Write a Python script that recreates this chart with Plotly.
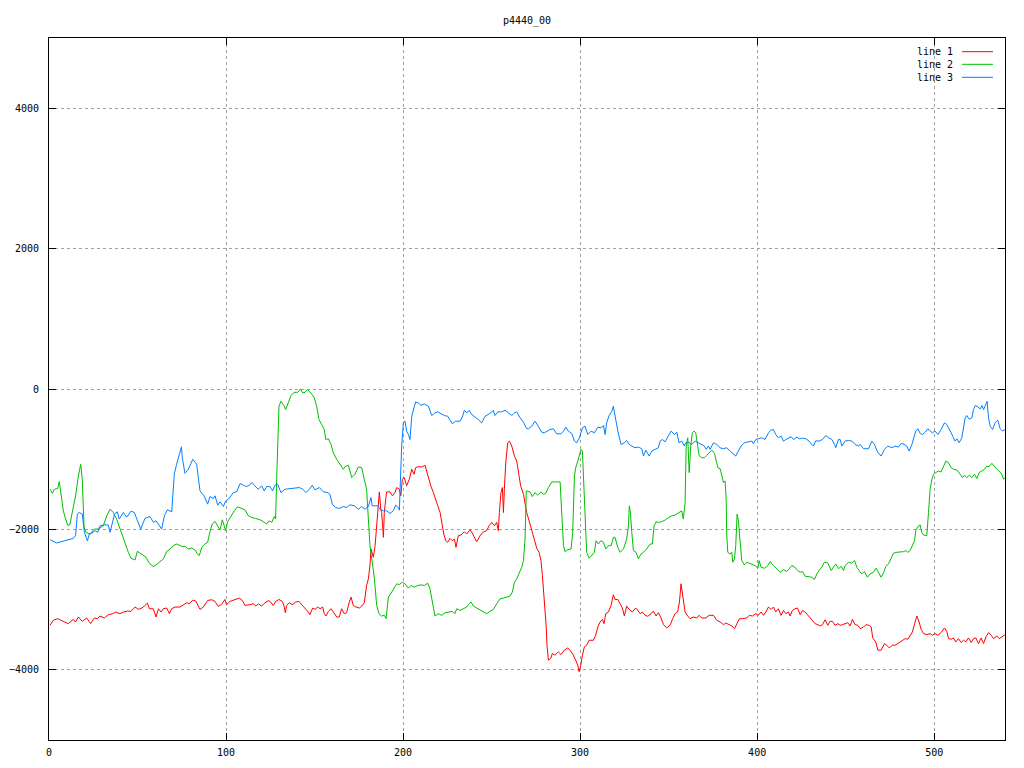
import plotly.graph_objects as go

title_text = "p4440_00"
series_names = ["line 1", "line 2", "line 3"]
x_ticks = [0, 100, 200, 300, 400, 500]
y_ticks = [-4000, -2000, 0, 2000, 4000]

line1_x = [0.6,2.4,4.9,8.1,10.9,13.7,15,16.6,18.8,21.3,23.5,25.6,27.3,28.8,31.3,33.5,36,37.7,40.1,42,44.4,46.3,48.6,50.5,52.4,53.9,55.6,56.7,58.9,60.5,61.8,63.3,64.6,66.5,68,69.3,71.2,74,75.9,77.8,79.3,81.2,82.9,85.3,87.2,
    89.6,91.9,93.8,95.6,97.5,99.4,100.3,102.2,104.1,106,107.5,109.2,110.7,113.5,115.4,116.9,118.2,120.1,122,124.3,126.7,128,129.9,131.8,132.9,133.5,134.2,135.7,137.4,139.3,141.2,143.1,144.6,146.5,147.4,148.9,150.2,151.8,153.1,154.6,155.5,156.5,157.8,159.3,160.6,162.5,164,165.3,166.8,168.1,169.5,170.6,171.9,173.4,175.3,176.6,178.1,
    179.4,180.4,181.3,181.9,183.2,184.2,185.1,186,186.6,187.4,187.9,188.9,189.4,190.2,190.7,192.6,194,195.4,196.4,197.9,198.7,199.6,200.7,202,203.5,204.9,206.2,207.1,208.6,210.5,212.4,213.3,214.3,215.8,217.1,218.4,219.6,220.9,221.8,223,224.1,225.2,226.5,227.8,229,229.9,231.2,232.7,234.6,235.9,237.8,239.1,240.6,241.6,243.5,245.4,247.2,248.6,250.1,251.6,252.9,253.8,254.4,255.3,256.1,256.7,257.2,258,259.1,260.1,261.4,262.9,264.2,265.5,266.4,268,
    269.8,271.2,272.7,274.2,275.5,276.8,277.9,278.7,279.4,280.2,280.8,281.3,282.1,283.4,284.3,285.8,287.7,289.2,291.1,293,294.3,296.2,297.5,298.7,299.4,300.4,301.3,302.4,303.7,305.1,307.5,308.8,310,311.3,312.6,313.5,314.5,316,317.5,318.8,319.7,321.3,322.6,323.9,325,326.3,327.7,329.5,331,332,333.9,335.2,336.7,338.2,340.1,341.4,342.9,344.2,345.5,347.1,348.9,350.8,352.3,353.6,355.1,356.1,357,357.8,358.7,
    359.3,360.8,362.1,364,365.9,367.2,368.7,371,372.9,375.3,377.2,379.1,381,382.3,383.8,385.7,387.2,388.5,390,391.7,394.1,395.6,397.3,399.2,400.7,402.2,403.6,404.9,406.4,407.9,409.2,410.5,412,413.5,414.9,416.2,417.7,418.6,419.9,421.4,422.8,424.3,425.6,427.1,428.6,429.9,431.2,432.7,434.3,435.6,436.9,438.4,439.9,441.2,442.5,444,445.6,446.9,448.2,
    449.7,451.2,452.5,453.8,455.3,456.9,458.2,460.1,461.4,463.3,464.4,465.3,467,468.2,470,471.9,473.2,474.6,476.4,477.9,479.5,480.8,482.1,483.6,485.1,486.4,487.7,488.7,489.6,490.2,491.5,492.6,494,495.8,497.7,499,500.5,502.1,503.9,505.8,507.1,508.1,509.6,510.9,512.2,513.7,515.2,516.6,517.9,519.4,520.9,522.2,523.5,525,526.5,527.9,529.2,530.7,532.2,533.5,535.4,536.7,538.2,540]
line1_y = [-3366,-3295,-3272,-3305,-3343,-3281,-3319,-3248,-3310,-3262,-3343,-3262,-3272,-3234,-3262,-3215,-3201,-3177,-3201,-3177,-3163,-3168,-3106,-3139,-3120,-3092,-3050,-3130,-3130,-3248,-3130,-3177,-3130,-3120,-3201,-3130,-3106,-3106,-3073,-3045,-3059,-3007,-3021,-3139,-3106,
    -3012,-3002,-3026,-3097,-3068,-2998,-3073,-3026,-3012,-2988,-2979,-3012,-3083,-3073,-3059,-3092,-3059,-3092,-3045,-3012,-3083,-3026,-2998,-3026,-3106,-3187,-3083,-3045,-3073,-3035,-3026,-3083,-3120,-3177,-3215,-3120,-3139,-3106,-3130,-3106,-3201,-3234,-3168,-3130,-3177,-3248,-3248,-3130,-3201,-3187,-3045,-2965,-3083,-3106,-3120,-3092,-3045,
    -2799,-2704,-2515,-2279,-2397,-2232,-1948,-1712,-1466,-1712,-1759,-2113,-1759,-1570,-1466,-1466,-1522,-1475,-1404,-1428,-1522,-1286,-1262,-1380,-1286,-1144,-1215,-1121,-1106,-1111,-1087,-1168,-1262,-1390,-1475,-1593,-1664,-1759,-1900,-2066,-2161,-2184,-2128,-2161,-2137,-2255,-2090,-2080,-2033,-2066,-2005,-2052,-2128,-2175,-2090,-2033,-2019,-1948,-1900,-1948,-1900,-2019,-1759,-1475,-1404,-1759,-1428,-1050,-766,-743,-813,-955,-1026,-1239,-1380,-1499,
    -1759,-1877,-2019,-2137,-2269,-2326,-2444,-2657,-2893,-3083,-3366,-3650,-3863,-3839,-3768,-3792,-3745,-3782,-3721,-3688,-3721,-3792,-3863,-3934,-4028,-3934,-3792,-3674,-3650,-3579,-3579,-3508,-3390,-3319,-3281,-3343,-3201,-3177,-3083,-2931,-2998,-2998,-3059,-3120,-3234,-3092,-3139,-3177,-3130,-3130,-3201,-3177,-3224,-3238,-3201,-3163,-3234,-3187,-3248,-3357,-3404,-3366,-3272,-3201,-3177,-3035,-2775,-2941,-3106,
    -3177,-3234,-3272,-3248,-3262,-3224,-3262,-3262,-3224,-3224,-3295,-3319,-3357,-3333,-3357,-3376,-3414,-3357,-3272,-3272,-3262,-3224,-3234,-3201,-3224,-3177,-3224,-3177,-3106,-3139,-3106,-3177,-3130,-3224,-3154,-3201,-3177,-3234,-3154,-3130,-3120,-3215,-3154,-3177,-3224,-3248,-3305,-3343,-3357,-3376,-3357,-3286,-3366,-3310,-3310,-3366,-3343,-3366,-3357,
    -3343,-3329,-3376,-3281,-3357,-3366,-3414,-3390,-3357,-3366,-3390,-3546,-3603,-3721,-3721,-3626,-3650,-3688,-3650,-3650,-3626,-3603,-3579,-3556,-3565,-3518,-3461,-3366,-3272,-3234,-3319,-3423,-3484,-3499,-3484,-3508,-3484,-3508,-3470,-3404,-3451,-3556,-3565,-3546,-3603,-3556,-3612,-3579,-3603,-3546,-3612,-3556,-3546,-3626,-3546,-3626,-3532,-3470,-3508,-3556,-3518,-3556,-3532,-3499]

line2_x = [0.6,1.9,3,4.9,5.8,6.8,8.1,9.4,10.5,11.7,13.2,15,16.6,17.9,18.8,19.8,20.9,23.2,25.6,27.9,30.7,32.6,34.5,36.3,38.2,40.1,42.6,44.8,46.3,48.6,49.9,52.4,54.8,56.7,58.9,60.5,62.7,64.6,66.5,68.4,70.2,72.1,75,76.8,78.7,80.6,82.5,83.8,84.9,86.3,
    87.6,89.6,90.9,92.2,93.8,95.3,96.6,97.9,99,99.8,100.9,102.8,104.7,106.4,108.4,110.7,112.6,114.5,116.7,119.2,121.1,122.9,124.4,125.8,127.3,128,128.6,129.2,129.9,131,132.4,133.7,135.2,136.7,138.4,140.5,142.1,143.3,144.6,145.9,148,149.9,151.2,152.5,154,155.5,156.3,157.8,159.3,160.6,162.5,164.4,166.3,167.2,169.1,171,172.8,174.7,176.6,178.1,
    179.4,180.4,181.3,182.6,183.8,185.1,186.4,187.9,189.4,190.4,191.7,193.6,195.4,196.4,197.9,199.6,201.1,203,204.5,206.4,208.3,210.1,212,213.9,215.2,216.2,217.1,218,219.9,221.8,223.7,225.6,227.8,229.3,230.3,232.2,234.1,235.9,237.3,238.4,239.7,241.6,243.5,245.4,247.2,249.1,251,252.9,254.8,256.7,258.5,260.4,261.7,262.9,264.2,265.5,267,268,268.9,
    269.6,271.7,273,274.5,276,277.9,279.3,280.6,282.1,284,286.2,288.7,289.2,290,290.6,291.5,293,294.9,295.8,296.8,297.5,298.7,299.6,300.5,301.3,301.9,302.8,303.7,305.1,306.6,308.1,309,310.3,311.8,313.2,314.5,316,317.5,318.8,319.7,321.3,322.6,324.5,326.3,327.3,327.8,328.4,329.2,330.1,331.6,332.9,334.4,335.8,337.6,339.5,340.8,341.8,342.9,344.2,346.1,348,349.9,351.8,353.6,355.5,357.4,358.3,358.9,
    359.3,359.9,360.8,361.6,362.5,363.4,364.4,365.3,366.3,367.2,368.7,370.2,371.5,372.9,374.4,375.9,376.8,377.8,379.1,380,381,381.9,382.5,382.8,383.4,384.7,385.7,386.2,387.2,387.9,388.7,389.4,390.4,391.3,392.8,394.1,395.5,397,398.8,400.4,401.1,402.2,404.1,406,407.3,409.2,411.1,413,414.9,416.7,418.1,419.6,421.4,422.8,424.3,425.6,427.1,429,430.9,432.4,433.7,435,436.5,438,439.9,441.8,443.1,444.4,446,447.4,448.8,
    449.7,451.6,453.5,455,456.3,457.6,459.1,460.6,462.3,463.8,465.7,467.2,468.5,470,471.4,472.7,474.2,475.7,477,478.9,480.8,482.7,484,485.1,486.4,487.7,488.9,489.6,490.8,492.1,493,494,495.8,496.8,497.7,498.7,499.6,500.9,502.4,503.9,505.3,506.6,508.1,509.6,510.9,512.8,514.7,516,517.1,518.4,519.8,521.3,522.8,524.1,525.4,527,528.4,529.7,531,532.6,534.1,535.4,536.7,538.2,539.2,540]
line2_y = [-1428,-1485,-1428,-1418,-1319,-1499,-1735,-1853,-1938,-1938,-1759,-1522,-1239,-1073,-1286,-1972,-2042,-2066,-1995,-1995,-1948,-1806,-1712,-1759,-1853,-1995,-2161,-2326,-2411,-2435,-2312,-2359,-2397,-2482,-2529,-2506,-2459,-2421,-2312,-2279,-2232,-2208,-2241,-2241,-2279,-2265,-2293,-2350,-2373,-2255,
    -2217,-2184,-2033,-1924,-1886,-1948,-2009,-1863,-1948,-2019,-1891,-1806,-1735,-1678,-1702,-1721,-1806,-1830,-1844,-1863,-1891,-1924,-1877,-1900,-1816,-1853,-1286,-813,-246,-175,-222,-293,-189,-95,-47,-47,0,-57,-47,-9,-57,-128,-246,-435,-506,-577,-719,-709,-790,-908,-1002,-1073,-1144,-1106,-1087,-1262,-1215,-1111,-1121,-1286,
    -1428,-1853,-2232,-2468,-2704,-3083,-3201,-3234,-3224,-3272,-2964,-2893,-2822,-2775,-2785,-2752,-2775,-2837,-2799,-2822,-2799,-2790,-2799,-2766,-2846,-2988,-3130,-3234,-3201,-3224,-3187,-3177,-3168,-3201,-3130,-3154,-3130,-3106,-3059,-3035,-3092,-3120,-3154,-3177,-3201,-3168,-3139,-3059,-2988,-2979,-2964,-2950,-2893,-2752,-2704,-2634,-2539,-2444,-2137,
    -1451,-1466,-1532,-1475,-1513,-1466,-1499,-1485,-1404,-1324,-1324,-1324,-1570,-1995,-2232,-2317,-2288,-2279,-2042,-1239,-1121,-1026,-931,-860,-884,-1286,-1853,-2326,-2411,-2373,-2326,-2161,-2208,-2161,-2184,-2279,-2232,-2232,-2113,-2113,-2255,-2326,-2279,-2137,-1948,-1664,-1759,-2042,-2302,-2326,-2421,-2350,-2326,-2279,-2208,-2208,-1948,-1891,-1900,-1891,-1867,-1830,-1806,-1797,-1768,-1735,-1853,-1664,
    -1617,-813,-695,-1191,-813,-624,-600,-624,-790,-946,-979,-979,-946,-908,-870,-917,-1026,-1121,-1135,-1215,-1333,-1310,-1570,-2066,-2326,-2350,-2326,-2468,-2421,-2232,-1782,-1877,-2232,-2444,-2506,-2468,-2482,-2492,-2515,-2553,-2444,-2539,-2553,-2515,-2459,-2515,-2562,-2610,-2572,-2600,-2562,-2515,-2539,-2586,-2610,-2600,-2667,-2671,-2681,-2714,-2634,-2586,-2539,-2468,-2477,-2586,-2539,-2492,-2562,-2525,-2586,
    -2515,-2468,-2482,-2444,-2539,-2586,-2634,-2600,-2681,-2634,-2610,-2553,-2610,-2681,-2619,-2525,-2492,-2421,-2340,-2326,-2326,-2317,-2302,-2326,-2302,-2232,-2161,-2019,-1957,-1938,-2042,-2080,-2090,-1759,-1428,-1286,-1215,-1191,-1168,-1182,-1087,-1026,-1050,-1121,-1144,-1154,-1215,-1262,-1229,-1262,-1229,-1262,-1215,-1276,-1191,-1168,-1144,-1097,-1106,-1059,-1106,-1144,-1168,-1215,-1286,-1262]

line3_x = [0.6,4.3,9,13.7,15,16,17,18.8,20,21.7,22.8,24,26,27.5,28.8,31.3,33.5,34.5,37,38.6,39.7,42,43.9,46.3,48.2,50.5,51.8,54.2,57,59,60.4,61.8,63.6,65.2,66.9,69.3,70.8,72.1,73.4,74.8,75.3,76.8,78.7,81.2,83.4,85.3,87.6,
    89.6,90.9,92.8,93.8,95.3,96.6,98.5,99.8,101.3,102.8,104.1,106,107.9,109.8,111.6,113.1,114.8,116.3,118.2,120.1,121.6,122.9,124.8,126.3,127.6,129.2,131,133.3,136.1,138.6,141.4,143.3,145.2,147.1,148.7,150.2,152.7,155,157.4,158.7,160,161.9,164,166.2,168.1,170,172.5,174.7,176.6,178.5,
    180.4,181.9,182.6,185.7,187,188.9,190.7,192.6,194.5,195.8,197.3,197.9,198.5,199.2,200.2,201.1,202,203,203.9,204.9,206.4,207.1,208.6,210.1,212,214.3,216.2,218,219.6,221.4,223.3,225.2,226.5,227.8,229.7,232.2,233.5,234.6,236,237.3,238.8,240.6,242.5,244.4,246.3,248.6,251,251.9,253.5,255.7,257.6,259.5,261.4,262.9,264.2,266.1,268,
    269.8,270.8,272.7,274.5,276.4,278.3,279.8,281.7,283,284.9,286.8,289.2,290.6,291.9,293.4,295.3,296.8,298.1,299.4,301.3,302.8,304.3,306.2,308.1,310,311.8,313.2,314.1,315,316.4,317.9,318.8,319.7,321.3,323.1,325,326.3,327.7,329.2,331,332.9,334.8,335.8,337.1,339,340.5,342.3,344.2,345.2,346.5,348,349.9,351.4,353.3,354.6,355.9,357.4,358.9,
    359.3,361.2,363.1,365,366.5,368.3,370.2,371.2,372.5,373.4,375.3,377.2,379.1,381,382.8,384.7,386.6,387.9,389.4,390.9,392.8,395.1,397,397.9,399.2,400.7,402.6,404.5,406.4,407.9,409.2,410.5,412,413.5,414.9,416.2,417.7,419.2,420.5,422.4,423.9,425.6,427.5,429.3,430.9,431.8,433.1,435,436.9,438.8,440.3,442.2,443.7,444.4,445.9,446.9,447.8,
    449.7,451.6,453.5,455.3,457.2,458.2,460.1,462.9,464.8,466.3,468,470,471.9,473.8,476.1,477.9,479.8,481.3,483.2,484.5,485.9,487.4,488.3,489.6,490.8,492.1,493.4,494.9,496.4,497.7,499,500.5,502.1,503.9,505.8,507.1,508.5,509.6,510.9,511.8,512.8,514.1,515.6,516.6,517.5,518.4,519.8,521.3,522.2,523.2,524.7,526,527,527.9,529.2,529.9,530.7,531.6,533,534.4,535.9,537.3,538.6,540]
line3_y = [-2146,-2194,-2160,-2128,-2090,-1782,-1759,-1782,-2042,-2165,-2066,-2057,-2019,-2042,-1948,-1934,-1938,-2042,-1782,-1749,-1853,-1759,-1825,-1740,-1759,-1910,-1995,-1844,-1816,-1900,-1877,-1924,-1995,-1806,-1721,-1749,-1206,-1073,-955,-823,-979,-1201,-1144,-1002,-1073,-1451,-1522,
    -1640,-1532,-1560,-1522,-1655,-1607,-1674,-1593,-1570,-1522,-1475,-1465,-1347,-1371,-1390,-1371,-1333,-1380,-1428,-1380,-1451,-1390,-1390,-1451,-1371,-1357,-1475,-1428,-1418,-1404,-1404,-1428,-1475,-1428,-1371,-1437,-1404,-1465,-1475,-1499,-1640,-1688,-1702,-1674,-1688,-1650,-1664,-1712,-1674,-1712,
    -1674,-1546,-1664,-1664,-1712,-1735,-1735,-1773,-1735,-1655,-1688,-1726,-1286,-813,-473,-459,-600,-648,-719,-388,-246,-184,-199,-232,-213,-246,-378,-341,-326,-355,-378,-388,-435,-496,-459,-459,-397,-303,-341,-303,-364,-397,-435,-482,-388,-355,-307,-378,-326,-326,-303,-341,-378,-341,-326,-411,-473,
    -563,-567,-530,-459,-530,-615,-624,-600,-577,-567,-638,-638,-600,-544,-600,-634,-742,-766,-709,-553,-530,-648,-600,-624,-544,-553,-520,-648,-482,-378,-317,-246,-388,-600,-790,-766,-733,-790,-813,-837,-827,-851,-955,-870,-955,-884,-860,-837,-742,-719,-752,-671,-600,-648,-615,-766,-742,-813,
    -775,-757,-790,-742,-766,-790,-813,-860,-813,-860,-766,-790,-837,-851,-837,-884,-931,-955,-884,-813,-766,-757,-742,-780,-719,-709,-695,-719,-624,-586,-577,-648,-695,-671,-742,-719,-695,-681,-719,-686,-709,-700,-709,-742,-790,-813,-738,-742,-719,-662,-695,-719,-790,-837,-719,-719,-813,
    -742,-733,-742,-790,-813,-790,-851,-851,-742,-790,-898,-955,-860,-813,-837,-813,-827,-775,-790,-813,-884,-790,-719,-600,-567,-634,-648,-615,-567,-600,-624,-600,-648,-577,-482,-506,-567,-624,-695,-742,-709,-766,-695,-530,-411,-378,-430,-411,-293,-236,-255,-284,-236,-293,-208,-175,-411,-530,-577,-482,-444,-567,-600,-577]

colors = ["#ff0000", "#00c000", "#0080ff"]
xs = [line1_x, line2_x, line3_x]
ys = [line1_y, line2_y, line3_y]

FONT = "DejaVu Sans Mono"

fig = go.Figure()
for name, x, y, c in zip(series_names, xs, ys, colors):
    fig.add_trace(go.Scatter(x=x, y=y, mode="lines", name=name,
                             line=dict(color=c, width=1), showlegend=False))

# gnuplot-style key: text right-aligned, sample to the right
key_y = [0.9805, 0.9625, 0.944]
for name, c, ky in zip(series_names, colors, key_y):
    fig.add_annotation(xref="paper", yref="paper", x=0.9477, y=ky, text=name,
                       showarrow=False, xanchor="right", yanchor="middle",
                       font=dict(family=FONT, size=10, color="black"))
    fig.add_shape(type="line", xref="paper", yref="paper",
                  x0=0.955, x1=0.9874, y0=ky, y1=ky,
                  line=dict(color=c, width=1))

axis_common = dict(
    showline=True, linecolor="black", linewidth=1, mirror="ticks",
    ticks="inside", ticklen=7, tickcolor="black", tickwidth=1,
    showgrid=True, gridcolor="#a0a0a0", griddash="dot", gridwidth=1,
    zeroline=False, automargin=False,
    tickfont=dict(family=FONT, size=10, color="black"),
)

# page body has an 8px margin; size the figure so the plot lands where the reference has it
fig.update_layout(
    width=1008, height=752,
    margin=dict(l=41, r=11, t=30, b=20, pad=0),
    paper_bgcolor="white", plot_bgcolor="white",
    title=dict(text=title_text, x=0.5, xref="paper", xanchor="center",
               y=1 - 12 / 752, yref="container", yanchor="middle",
               font=dict(family=FONT, size=10, color="black")),
    xaxis=dict(range=[0, 540], tickvals=x_ticks, ticklabelstandoff=3, **axis_common),
    yaxis=dict(range=[-5000, 5000], tickvals=y_ticks, ticklabelstandoff=7, **axis_common),
    showlegend=False,
)

fig.write_html("out.html")
